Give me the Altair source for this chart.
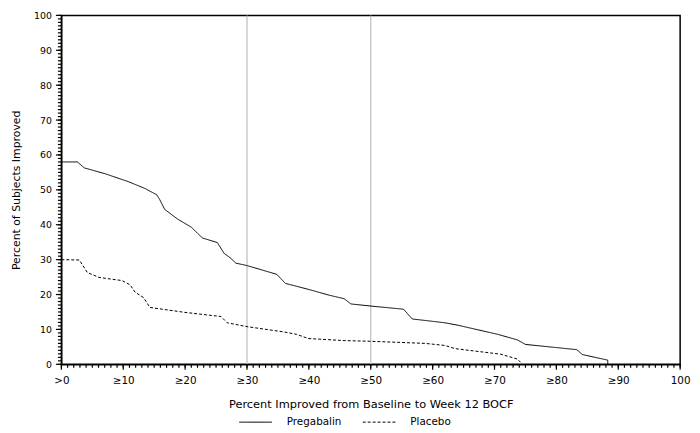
import altair as alt
import pandas as pd

# Pregabalin curve
preg_x = [0, 2.6, 3.7, 7.1, 10.9, 13.5, 15.4, 15.9, 16.7, 18.8, 21.0, 22.8, 25.2, 26.3,
          27.3, 28.2, 30.0, 34.8, 35.5, 36.2, 40.1, 43.3, 45.7, 46.8, 50.0, 55.3, 56.7,
          62.0, 64.1, 70.5, 73.7, 75.0, 83.3, 84.2, 88.3, 88.3]
preg_y = [58, 58, 56.3, 54.6, 52.3, 50.4, 48.6, 47.2, 44.4, 41.6, 39.3, 36.2, 34.9, 31.8,
          30.5, 29.0, 28.3, 25.8, 24.5, 23.2, 21.4, 19.8, 18.8, 17.3, 16.7, 15.8, 13.0,
          11.9, 11.2, 8.6, 7.0, 5.7, 4.2, 2.8, 1.2, 0]

# Placebo curve
plac_x = [0, 2.9, 4.2, 6.1, 9.8, 11.1, 11.9, 13.3, 14.3, 19.9, 25.8, 26.8, 30.0, 35.9,
          38.0, 39.9, 45.7, 50.0, 58.8, 62.0, 63.6, 71.0, 73.7, 74.2]
plac_y = [30, 29.9, 26.3, 24.9, 24.0, 22.8, 20.7, 19.1, 16.3, 14.9, 13.7, 11.9, 10.8, 9.3,
          8.6, 7.4, 6.8, 6.6, 6.0, 5.4, 4.5, 2.9, 1.5, 0.6]

series = ["Pregabalin", "Placebo"]
ref_x = [30, 50]
major = list(range(0, 101, 10))
minor = list(range(0, 101))
x_tick_labels = [">0", "≥10", "≥20", "≥30", "≥40", "≥50", "≥60", "≥70", "≥80", "≥90", "100"]

rows = []
for name, xs, ys in [(series[0], preg_x, preg_y), (series[1], plac_x, plac_y)]:
    for i, (a, b) in enumerate(zip(xs, ys)):
        rows.append({"series": name, "x": a, "y": b, "i": i})
df = pd.DataFrame(rows)

font = "DejaVu Sans"
H = 353
x_label_expr = "[" + ",".join("'" + s + "'" for s in x_tick_labels) + "][round(datum.value / 10)]"

x_scale = alt.Scale(domain=[0, 100], nice=False)
y_scale = alt.Scale(domain=[0, 100], nice=False)
x_title = "Percent Improved from Baseline to Week 12 BOCF"
y_title = "Percent of Subjects Improved"

x_axis = alt.Axis(values=major, labelExpr=x_label_expr, ticks=False,
                  labelOverlap=False, labelFlush=False, labelBound=False,
                  grid=False, domainColor="black", domainWidth=1.2,
                  labelColor="black", labelFont=font, labelFontSize=10.5,
                  labelPadding=11, titleFont=font, titleFontSize=11.5,
                  titleFontWeight="normal", titleColor="black", titlePadding=13)
y_axis = alt.Axis(values=major, ticks=False, labelOverlap=False, labelFlush=False,
                  labelBound=False, grid=False, domainColor="black",
                  domainWidth=1.2, labelColor="black", labelFont=font,
                  labelFontSize=9.5, labelPadding=10, titleFont=font,
                  titleFontSize=11, titleFontWeight="normal", titleColor="black",
                  titlePadding=12)


def X(field):
    return alt.X(field, scale=x_scale, title=x_title, axis=x_axis)


def Y(field):
    return alt.Y(field, scale=y_scale, title=y_title, axis=y_axis)


# tick marks (minor every 1, major every 10) drawn as short rules off the axis lines
minor_df = pd.DataFrame({"x": minor, "y": minor})
major_df = pd.DataFrame({"x": major, "y": major})
tick = dict(color="black", strokeWidth=1.2)
x_minor = alt.Chart(minor_df).mark_rule(**tick).encode(
    x=X("x:Q"), y=alt.value(H), y2=alt.value(H + 3.5))
x_major = alt.Chart(major_df).mark_rule(**tick).encode(
    x=X("x:Q"), y=alt.value(H), y2=alt.value(H + 5.5))
y_minor = alt.Chart(minor_df).mark_rule(**tick).encode(
    y=Y("y:Q"), x=alt.value(-3.5), x2=alt.value(0))
y_major = alt.Chart(major_df).mark_rule(**tick).encode(
    y=Y("y:Q"), x=alt.value(-5.5), x2=alt.value(0))

refs = alt.Chart(pd.DataFrame({"x": ref_x})).mark_rule(color="#bdbdbd", strokeWidth=1.2).encode(
    x=X("x:Q")
)

lines = alt.Chart(df).mark_line(color="black", strokeWidth=1).encode(
    x=X("x:Q"),
    y=Y("y:Q"),
    strokeDash=alt.StrokeDash("series:N",
                              scale=alt.Scale(domain=series, range=[[1, 0], [3, 2]]),
                              legend=alt.Legend(title=None, orient="none", direction="horizontal",
                                                legendX=179, legendY=394,
                                                symbolType="stroke", symbolSize=1100,
                                                symbolStrokeColor="black", symbolStrokeWidth=1,
                                                labelFont=font, labelFontSize=10.5,
                                                labelColor="black", labelOffset=14,
                                                columnPadding=18)),
    order="i:Q",
    detail="series:N",
)

chart = alt.layer(refs, lines, x_minor, x_major, y_minor, y_major).properties(
    width=626,
    height=H,
    autosize="none",
    padding={"left": 54, "top": 5, "right": 12, "bottom": 67},
    background="white",
).configure_view(
    stroke="black",
    strokeWidth=1.5,
)

chart.save("out.html", embed_options={"renderer": "svg", "actions": False})
